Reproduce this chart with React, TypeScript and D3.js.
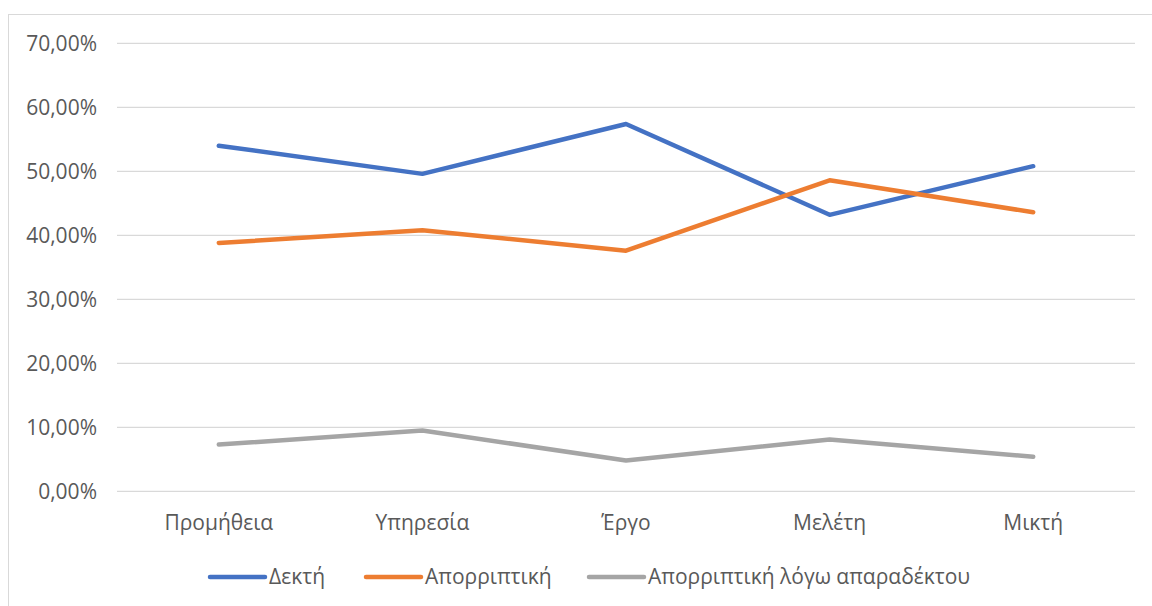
import React from "react";
import * as d3 from "d3";

const categories = ["Προμήθεια", "Υπηρεσία", "Έργο", "Μελέτη", "Μικτή"];
const seriesNames = ["Δεκτή", "Απορριπτική", "Απορριπτική λόγω απαραδέκτου"];
const accepted = [0.54, 0.496, 0.574, 0.432, 0.508];
const rejected = [0.388, 0.408, 0.376, 0.486, 0.436];
const inadmissible = [0.073, 0.095, 0.048, 0.081, 0.054];
const yTicks = [0, 0.1, 0.2, 0.3, 0.4, 0.5, 0.6, 0.7];
const colors = ["#4472C4", "#ED7D31", "#A5A5A5"];

const W = 1152;
const H = 606;
const FONT = "'Open Sans', sans-serif";
const FS = 21;

export default function App() {
  const x = d3.scaleBand<string>().domain(categories).range([117, 1135]);
  const y = d3.scaleLinear().domain([0, 0.7]).range([491.3, 43.3]);
  const line = d3
    .line<number>()
    .x((_, i) => (x(categories[i]) as number) + x.bandwidth() / 2)
    .y((d) => y(d));
  const series = [accepted, rejected, inadmissible];
  const fmt = (v: number) => (v * 100).toFixed(2).replace(".", ",") + "%";
  const legendX = [210, 366, 589];

  return (
    <svg
      width={W}
      height={H}
      style={{ position: "absolute", left: 0, top: 0 }}
      fontFamily={FONT}
    >
      <rect x={0} y={0} width={W} height={H} fill="#fff" />
      <rect x={8.5} y={14.5} width={W} height={H} fill="none" stroke="#D9D9D9" strokeWidth={1} />
      {yTicks.map((t) => (
        <g key={t}>
          <line x1={117} x2={1135} y1={y(t)} y2={y(t)} stroke="#D9D9D9" strokeWidth={1.3} />
          <text x={97} y={y(t)} dy="0.35em" textAnchor="end" fontSize={FS} fill="#595959">
            {fmt(t)}
          </text>
        </g>
      ))}
      {categories.map((c) => (
        <text
          key={c}
          x={(x(c) as number) + x.bandwidth() / 2}
          y={523}
          dy="0.35em"
          textAnchor="middle"
          fontSize={FS}
          fill="#595959"
        >
          {c}
        </text>
      ))}
      {series.map((s, i) => (
        <path
          key={i}
          d={line(s) as string}
          fill="none"
          stroke={colors[i]}
          strokeWidth={4.5}
          strokeLinecap="round"
          strokeLinejoin="round"
        />
      ))}
      {seriesNames.map((n, i) => (
        <g key={n}>
          <line
            x1={legendX[i]}
            x2={legendX[i] + 55}
            y1={577}
            y2={577}
            stroke={colors[i]}
            strokeWidth={4.5}
            strokeLinecap="round"
          />
          <text x={legendX[i] + 59} y={577} dy="0.35em" fontSize={FS} fill="#595959">
            {n}
          </text>
        </g>
      ))}
    </svg>
  );
}
